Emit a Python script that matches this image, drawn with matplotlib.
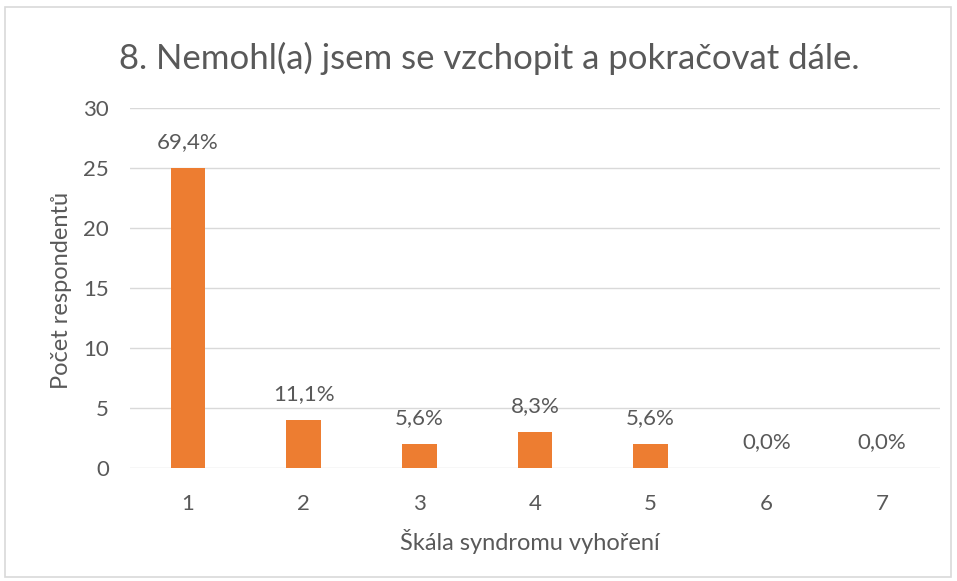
import matplotlib
matplotlib.use("Agg")
import matplotlib.pyplot as plt
from matplotlib.patches import Rectangle

categories = ["1", "2", "3", "4", "5", "6", "7"]
counts = [25, 4, 2, 3, 2, 0, 0]
pct_labels = ["69,4%", "11,1%", "5,6%", "8,3%", "5,6%", "0,0%", "0,0%"]
yticks = [0, 5, 10, 15, 20, 25, 30]

title = "8. Nemohl(a) jsem se vzchopit a pokračovat dále."
xlabel = "Škála syndromu vyhoření"
ylabel = "Počet respondentů"

plt.rcParams['font.family'] = ['Lato', 'DejaVu Sans']
txt = "#595959"

W, H = 957, 581
fig = plt.figure(figsize=(W/100, H/100), dpi=100)
fig.patch.set_facecolor("white")

# outer border
fig.add_artist(Rectangle((5/W, 4/H), 946/W, 570/H, transform=fig.transFigure,
                         fill=False, edgecolor="#d9d9d9", lw=1.2))

ax = fig.add_axes([130/W, 1-468/H, 810/W, 360/H])
x = list(range(1, len(categories)+1))
ax.bar(x, counts, width=0.3, color="#ED7D31", zorder=3)
ax.set_xlim(0.5, len(categories)+0.5)
ax.set_ylim(0, 30)
ax.set_yticks(yticks)
ax.set_xticks(x)
ax.set_xticklabels(categories)
ax.grid(axis='y', color="#d9d9d9", lw=1, zorder=0)
for s in ax.spines.values():
    s.set_visible(False)
ax.tick_params(length=0, colors=txt, labelsize=16)
ax.tick_params(axis='x', pad=19)
ax.tick_params(axis='y', pad=15)

for xi, c, lab in zip(x, counts, pct_labels):
    ax.annotate(lab, (xi, c), xytext=(0, 26), textcoords='offset pixels',
                ha='center', va='center', color=txt, fontsize=16)

fig.text(489/W, 1-58/H, title, ha='center', va='center', color=txt, fontsize=25)
fig.text(530/W, 1-541/H, xlabel, ha='center', va='center', color=txt, fontsize=17)
fig.text(62/W, 1-290/H, ylabel, ha='center', va='center', color=txt, fontsize=17, rotation=90)

fig.savefig("out.png", dpi=100)
